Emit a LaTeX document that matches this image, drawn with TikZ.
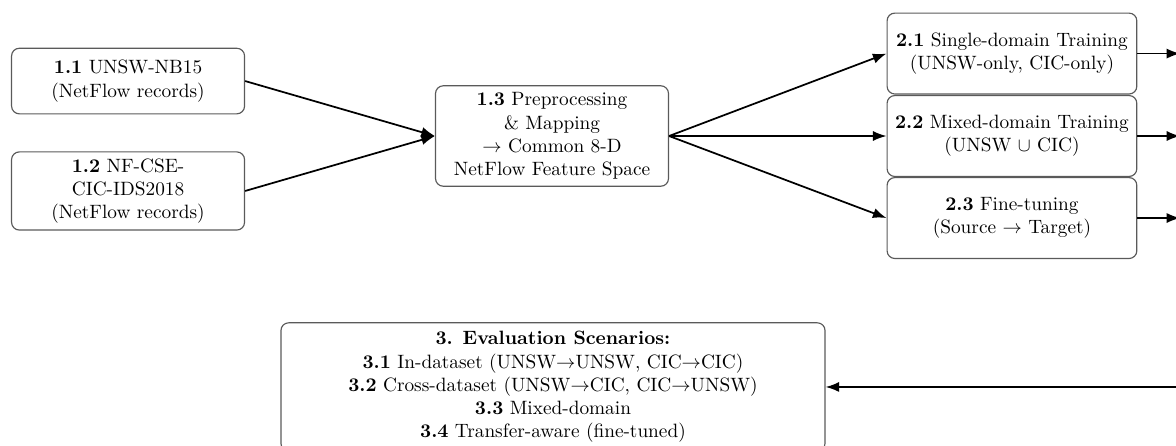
\documentclass[tikz,border=0pt]{standalone}
\usepackage{amsmath,amssymb}
\usetikzlibrary{arrows.meta}
\definecolor{boxline}{HTML}{5A5A5A}

\begin{document}
\begin{tikzpicture}[x=1in,y=1in,>=Latex,
  stage/.style={draw=boxline,line width=.6pt,rounded corners=4pt,align=center},
  flow/.style={->,line width=.9pt}]
\useasboundingbox (0,0) rectangle (8.43,3.19);
\node[stage,minimum width=1.67in,minimum height=.47in] (unsw) at (.918,2.609) {\textbf{1.1} UNSW-NB15\\(NetFlow records)};
\node[stage,minimum width=1.67in,minimum height=.56in] (cic) at (.918,1.821) {\textbf{1.2} NF-CSE-\\CIC-IDS2018\\(NetFlow records)};
\node[stage,minimum width=1.67in,minimum height=.72in] (prep) at (3.957,2.215) {\textbf{1.3} Preprocessing\\\& Mapping\\$\rightarrow$ Common 8-D\\NetFlow Feature Space};
\node[stage,minimum width=1.79in,minimum height=.58in] (single) at (7.254,2.806) {\textbf{2.1} Single-domain Training\\(UNSW-only, CIC-only)};
\node[stage,minimum width=1.79in,minimum height=.58in] (mixed) at (7.254,2.215) {\textbf{2.2} Mixed-domain Training\\(UNSW $\cup$ CIC)};
\node[stage,minimum width=1.79in,minimum height=.58in] (tune) at (7.254,1.627) {\textbf{2.3} Fine-tuning\\(Source $\rightarrow$ Target)};
\node[stage,minimum width=3.9in,minimum height=.92in] (eval) at (3.964,.416) {\textbf{3. Evaluation Scenarios:}\\\textbf{3.1} In-dataset (UNSW$\rightarrow$UNSW, CIC$\rightarrow$CIC)\\\textbf{3.2} Cross-dataset (UNSW$\rightarrow$CIC, CIC$\rightarrow$UNSW)\\\textbf{3.3} Mixed-domain\\\textbf{3.4} Transfer-aware (fine-tuned)};
% ends that run past the right edge
\coordinate (out1) at (8.46,2.806);
\coordinate (out2) at (8.46,2.215);
\coordinate (out3) at (8.46,1.627);
\coordinate (back) at (8.46,.416);
\draw[flow] (unsw.east)--(prep.west);
\draw[flow] (cic.east)--(prep.west);
\draw[flow] (prep.east)--(single.west);
\draw[flow] (prep.east)--(mixed.west);
\draw[flow] (prep.east)--(tune.west);
\draw[flow] (single.east)--(out1);
\draw[flow] (mixed.east)--(out2);
\draw[flow] (tune.east)--(out3);
\draw[flow] (back)--(eval.east);
\end{tikzpicture}
\end{document}
